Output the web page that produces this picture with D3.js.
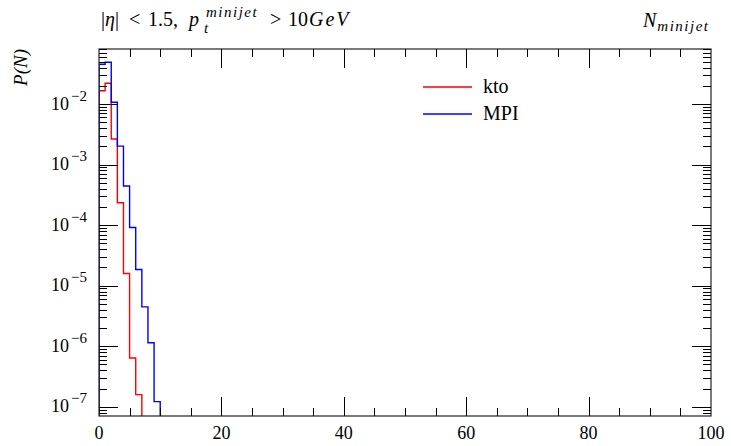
<!DOCTYPE html>
<html><head><meta charset="utf-8">
<script src="https://cdn.jsdelivr.net/npm/d3@7"></script>
<style>
html,body{margin:0;padding:0;background:#fff;}
text{font-family:"Liberation Serif","DejaVu Serif",serif;fill:#000;}
</style></head>
<body><svg id="c" width="731" height="446"></svg>
<script>
// ---- data ----
const binLow = [0,1,2,3,4,5,6,7,8,9,10];
const ktoValues = [0.0166,0.0220,0.00264,2.34e-4,1.59e-5,6.41e-7,1.59e-7,0,0,0,0];
const mpiValues = [0.0453,0.0489,0.01067,0.00202,4.42e-4,9.16e-5,1.85e-5,4.47e-6,1.14e-6,1.22e-7,0];
const seriesNames = ["kto","MPI"];
const seriesColors = ["#ff0000","#0000ff"];
const xTickValues = [0,20,40,60,80,100];
const yTickExponents = [-2,-3,-4,-5,-6,-7];
const binWidth = 1;

const svg = d3.select("#c");
const L=99, R=711, T=49, B=416;
const x = d3.scaleLinear().domain([0,100]).range([L,R]);
const y = d3.scaleLog().domain([7.05e-8,0.081]).range([B,T]);
const FLOOR = 1e-12;

svg.append("clipPath").attr("id","pa").append("rect")
  .attr("x",L).attr("y",T).attr("width",R-L).attr("height",B-T);

function stepPath(vals){
  const p = d3.path();
  const yv = v => y(Math.max(v,FLOOR));
  p.moveTo(x(binLow[0]), yv(0));
  vals.forEach((v,i)=>{
    p.lineTo(x(binLow[i]), yv(v));
    p.lineTo(x(binLow[i]+binWidth), yv(v));
  });
  return p.toString();
}
const g = svg.append("g").attr("clip-path","url(#pa)");
[ktoValues,mpiValues].forEach((vals,i)=>{
  g.append("path").attr("d",stepPath(vals)).attr("fill","none")
   .attr("stroke",seriesColors[i]).attr("stroke-width",1.4);
});

svg.append("rect").attr("x",L).attr("y",T).attr("width",R-L).attr("height",B-T)
  .attr("fill","none").attr("stroke","#222").attr("stroke-width",1.2);

const major=19, minor=8;
const ticks = svg.append("g").attr("stroke","#000").attr("stroke-width",1);
d3.range(5,100,5).forEach(v=>{
  const len = (v%20===0)?major:minor;
  const xx = Math.round(x(v))+0.5;
  ticks.append("line").attr("x1",xx).attr("x2",xx).attr("y1",B).attr("y2",B-len);
  ticks.append("line").attr("x1",xx).attr("x2",xx).attr("y1",T).attr("y2",T+len);
});
for(let e=-8;e<=-1;e++){
  for(let m=1;m<=9;m++){
    const v = m*Math.pow(10,e);
    if(v<y.domain()[0]||v>y.domain()[1]) continue;
    const len = (m===1)?major:minor;
    const yy = Math.round(y(v))+0.5;
    ticks.append("line").attr("x1",L).attr("x2",L+len).attr("y1",yy).attr("y2",yy);
    ticks.append("line").attr("x1",R).attr("x2",R-len).attr("y1",yy).attr("y2",yy);
  }
}

xTickValues.forEach(v=>{
  svg.append("text").attr("x",x(v)).attr("y",439).attr("text-anchor","middle")
    .attr("font-size",18).text(v);
});
yTickExponents.forEach(e=>{
  const t = svg.append("text").attr("x",87).attr("y",y(Math.pow(10,e))+5.5)
    .attr("text-anchor","end").attr("font-size",18);
  t.append("tspan").text("10");
  t.append("tspan").attr("dx",2).attr("dy",-9).attr("font-size",15).text("\u2212"+(-e));
});

svg.append("text").attr("transform","translate(27,49) rotate(-90)")
  .attr("text-anchor","end").attr("font-size",19).attr("font-style","italic").text("P(N)");

// title (left), parts placed at their positions
const titleParts = [
  {s:"|\u03b7|", x:101},
  {s:"<", x:129},
  {s:"1.5,", x:148},
  {s:"p", x:189, it:true},
  {s:"t", x:204, it:true, fs:15, dy:7},
  {s:"minijet", x:206, it:true, fs:15, dy:-9, ls:1.5},
  {s:">", x:270},
  {s:"10", x:288},
  {s:"GeV", x:309, it:true, ls:2}
];
titleParts.forEach(p=>{
  const t = svg.append("text").attr("x",p.x).attr("y",26+(p.dy||0))
    .attr("font-size",p.fs||20).attr("font-style",p.it?"italic":"normal");
  if(p.ls) t.attr("letter-spacing",p.ls);
  if(p.s==="|\u03b7|"){
    t.append("tspan").text("|");
    t.append("tspan").attr("font-style","italic").text("\u03b7");
    t.append("tspan").text("|");
  } else t.text(p.s);
});

(function(){
  const t = svg.append("text").attr("x",643).attr("y",27)
    .attr("font-size",20).attr("font-style","italic");
  t.append("tspan").text("N");
  t.append("tspan").attr("dx",1).attr("dy",4).attr("font-size",15)
    .attr("letter-spacing",1.5).text("minijet");
})();

seriesNames.forEach((n,i)=>{
  const yy = 87 + i*27;
  svg.append("line").attr("x1",423).attr("x2",472).attr("y1",yy).attr("y2",yy)
    .attr("stroke",seriesColors[i]).attr("stroke-width",1.4);
  svg.append("text").attr("x",483).attr("y",yy+5.5).attr("font-size",20).text(n);
});
</script></body></html>
